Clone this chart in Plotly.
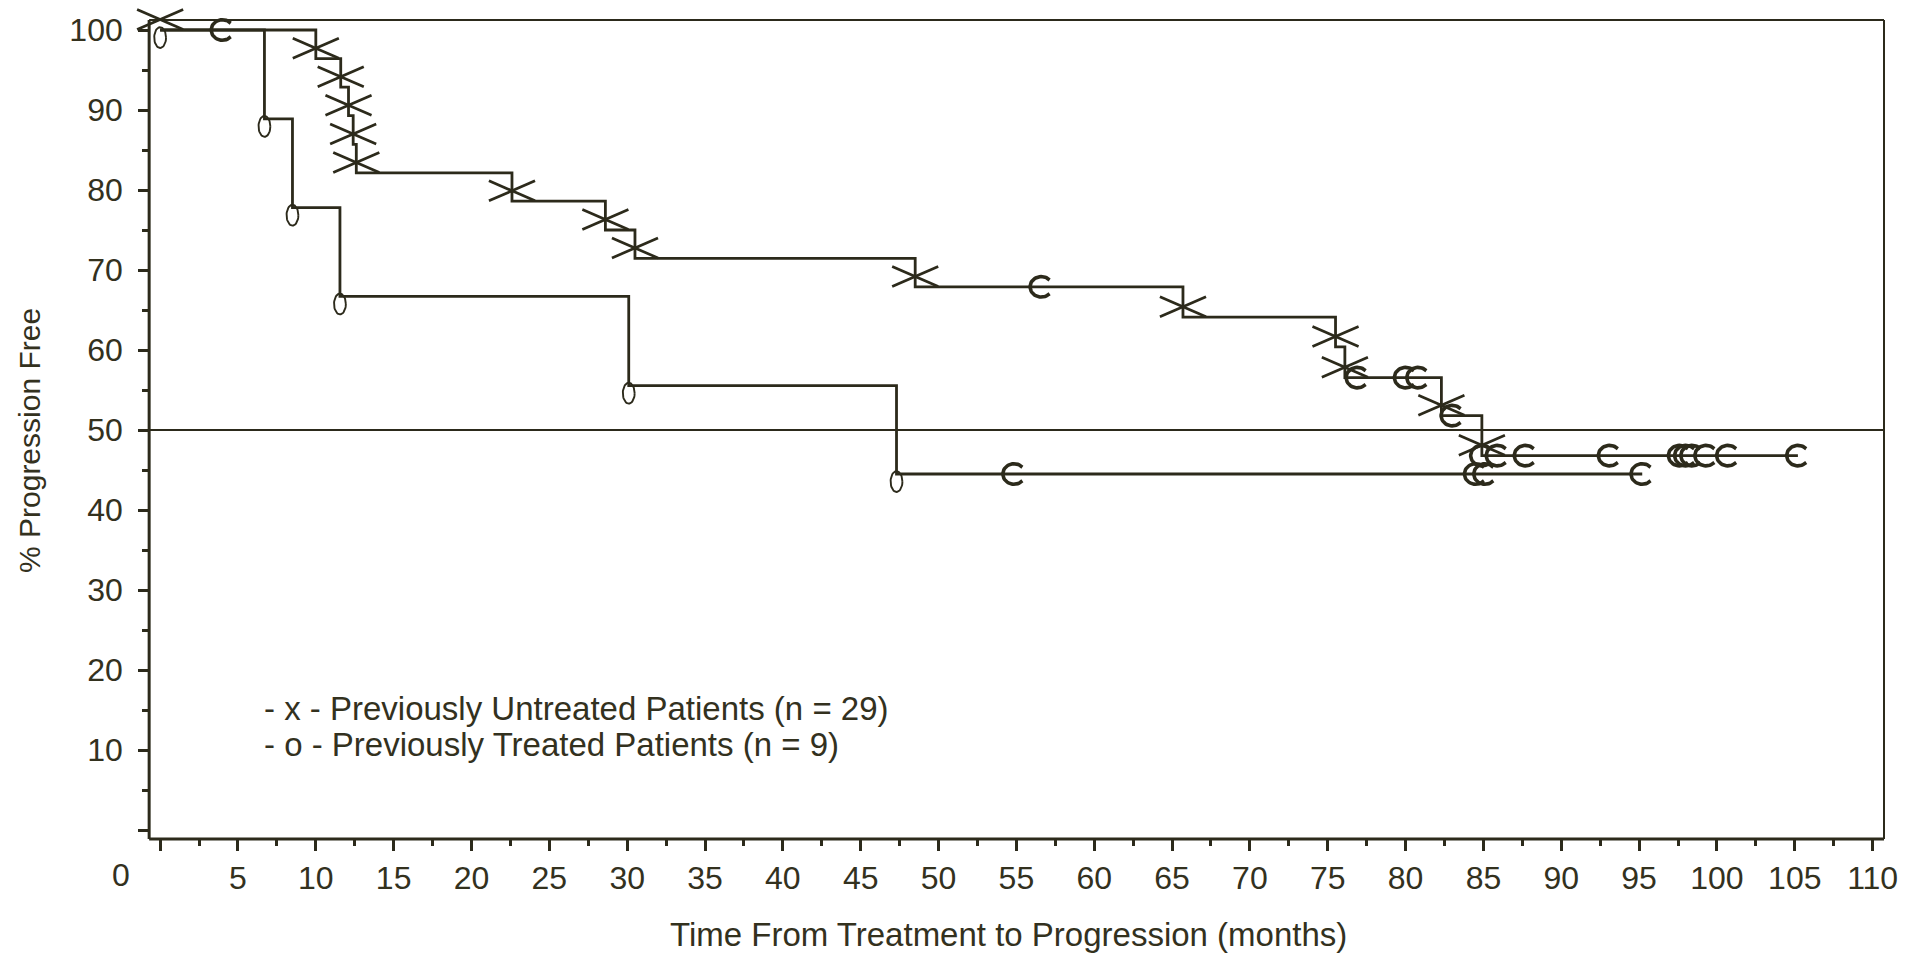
import numpy as np
import plotly.graph_objects as go

# ---------------- data ----------------
# Previously untreated patients: Kaplan-Meier step times (months) and % progression free after each step
untreated_step_t = [0, 10.0, 11.6, 12.1, 12.4, 12.6, 22.6, 28.6, 30.5, 48.5, 65.7, 75.5, 76.1, 82.3, 84.9]
untreated_step_s = [100, 96.43, 92.86, 89.29, 85.71, 82.14, 78.6, 75.0, 71.45, 67.9, 64.1, 60.4, 56.55, 51.8, 46.8]
# censored observations (C marks)
untreated_cens_t = [4.0, 56.6, 76.9, 80.0, 80.8, 83.0, 84.9, 85.9, 87.7, 93.1, 97.6, 98.0, 98.4, 99.3, 100.7, 105.2]
untreated_cens_s = [100, 67.9, 56.55, 56.55, 56.55, 51.8, 46.8, 46.8, 46.8, 46.8, 46.8, 46.8, 46.8, 46.8, 46.8, 46.8]

# Previously treated patients
treated_step_t = [0, 6.7, 8.5, 11.55, 30.1, 47.3]
treated_step_s = [100, 88.9, 77.8, 66.7, 55.55, 44.5]
treated_cens_t = [54.85, 84.5, 85.1, 95.2]
treated_cens_s = [44.5, 44.5, 44.5, 44.5]

reference_level = 50

x_tick_vals = list(range(0, 111, 5))
x_tick_text = [""] + [str(v) for v in x_tick_vals[1:]]
y_tick_vals = list(range(0, 101, 10))
y_tick_text = [""] + [str(v) for v in y_tick_vals[1:]]

legend_lines = ["- x - Previously Untreated Patients (n = 29)",
                "- o - Previously Treated Patients (n = 9)"]
x_title = "Time From Treatment to Progression (months)"
y_title = "% Progression Free"

# ---------------- style ----------------
INK = "#2c2a1b"
TXT = "#33311e"
FONT = "Liberation Sans, Arial, Helvetica, sans-serif"
W, H = 1921, 957
ML, MR, MT, MB = 129, 37, 6, 118
X0, X1 = -2.0, 110.73          # x range (extra room on the left so the t=0 marks are not clipped)
Y0, Y1 = -1.125, 103.0         # y range (extra room on top)
AX_LEFT_T = -0.706             # where the drawn y axis line sits
FRAME_TOP_Y = 101.25           # top frame line

# marker geometry (data units)
X_HW, X_HH, X_DY = 1.48, 1.25, 1.3        # wide "X" event marks
E_RX, E_RY, E_DY = 0.38, 1.3, -0.95       # vertical ellipse event marks
C_RX, C_RY = 0.72, 1.28                   # "C" censor marks


def xmark_path(ts, ss):
    xs, ys = [], []
    for t, s in zip(ts, ss):
        c = s + X_DY
        xs += [t - X_HW, t + X_HW, None, t - X_HW, t + X_HW, None]
        ys += [c - X_HH, c + X_HH, None, c + X_HH, c - X_HH, None]
    return xs, ys


def ellipse_path(ts, ss):
    th = np.linspace(0, 2 * np.pi, 49)
    xs, ys = [], []
    for t, s in zip(ts, ss):
        xs += list(t + E_RX * np.cos(th)) + [None]
        ys += list(s + E_DY + E_RY * np.sin(th)) + [None]
    return xs, ys


def cmark_path(ts, ss):
    th = np.linspace(np.radians(42), np.radians(318), 40)
    xs, ys = [], []
    for t, s in zip(ts, ss):
        xs += list(t + C_RX * np.cos(th)) + [None]
        ys += list(s + C_RY * np.sin(th)) + [None]
    return xs, ys


fig = go.Figure()

# step curves
fig.add_trace(go.Scatter(
    x=untreated_step_t + [untreated_cens_t[-1]],
    y=untreated_step_s + [untreated_step_s[-1]],
    mode="lines", line=dict(color=INK, width=2.8, shape="hv"), hoverinfo="skip"))
fig.add_trace(go.Scatter(
    x=treated_step_t + [treated_cens_t[-1]],
    y=treated_step_s + [treated_step_s[-1]],
    mode="lines", line=dict(color=INK, width=2.8, shape="hv"), hoverinfo="skip"))

# event marks
xx, xy = xmark_path(untreated_step_t, untreated_step_s)
fig.add_trace(go.Scatter(x=xx, y=xy, mode="lines", line=dict(color=INK, width=2.7), hoverinfo="skip"))
ex, ey = ellipse_path(treated_step_t, treated_step_s)
fig.add_trace(go.Scatter(x=ex, y=ey, mode="lines", line=dict(color=INK, width=1.9), hoverinfo="skip"))

# censor marks
cx, cy = cmark_path(untreated_cens_t + treated_cens_t, untreated_cens_s + treated_cens_s)
fig.add_trace(go.Scatter(x=cx, y=cy, mode="lines", line=dict(color=INK, width=3.6), hoverinfo="skip"))


def px_(t):
    return (t - X0) / (X1 - X0)


def py_(v):
    return (v - Y0) / (Y1 - Y0)


left = px_(AX_LEFT_T)
top = py_(FRAME_TOP_Y)
shapes = [
    dict(type="line", xref="paper", yref="paper", x0=left, x1=left, y0=0, y1=top, line=dict(color=INK, width=3)),
    dict(type="line", xref="paper", yref="paper", x0=left, x1=1, y0=0, y1=0, line=dict(color=INK, width=3)),
    dict(type="line", xref="paper", yref="paper", x0=left, x1=1, y0=top, y1=top, line=dict(color=INK, width=2)),
    dict(type="line", xref="paper", yref="paper", x0=1, x1=1, y0=0, y1=top, line=dict(color=INK, width=2)),
    dict(type="line", xref="paper", yref="paper", x0=left, x1=1, y0=py_(reference_level), y1=py_(reference_level),
         line=dict(color=INK, width=1.8)),
]

pw = W - ML - MR
ph = H - MT - MB


def ax_x(pix):
    return (pix - ML) / pw


def ax_y(pix):
    return (H - MB - pix) / ph


annotations = [
    dict(text="0", x=ax_x(121), y=ax_y(875), xref="paper", yref="paper", showarrow=False,
         xanchor="center", yanchor="middle", font=dict(family=FONT, size=32, color=TXT)),
    dict(text=x_title, x=ax_x(1008), y=ax_y(934), xref="paper", yref="paper", showarrow=False,
         xanchor="center", yanchor="middle", font=dict(family=FONT, size=33, color=TXT)),
    dict(text=y_title, x=ax_x(30), y=ax_y(441), xref="paper", yref="paper", showarrow=False, textangle=-90,
         xanchor="center", yanchor="middle", font=dict(family=FONT, size=30, color=TXT)),
    dict(text=legend_lines[0], x=ax_x(262), y=ax_y(708), xref="paper", yref="paper", showarrow=False,
         xanchor="left", yanchor="middle", font=dict(family=FONT, size=33, color=TXT)),
    dict(text=legend_lines[1], x=ax_x(262), y=ax_y(744), xref="paper", yref="paper", showarrow=False,
         xanchor="left", yanchor="middle", font=dict(family=FONT, size=33, color=TXT)),
]

fig.update_layout(
    width=W, height=H,
    margin=dict(l=ML, r=MR, t=MT, b=MB, pad=0),
    paper_bgcolor="white", plot_bgcolor="white",
    showlegend=False,
    shapes=shapes,
    annotations=annotations,
    xaxis=dict(range=[X0, X1], tickmode="array", tickvals=x_tick_vals, ticktext=x_tick_text,
               ticks="outside", ticklen=11, tickwidth=2.5, tickcolor=INK,
               showline=False, showgrid=False, zeroline=False,
               tickfont=dict(family=FONT, size=32, color=TXT),
               minor=dict(tickmode="linear", tick0=0, dtick=2.5, ticks="outside", ticklen=6,
                          tickwidth=2.5, tickcolor=INK, showgrid=False)),
    yaxis=dict(range=[Y0, Y1], anchor="free", position=left, tickmode="array",
               tickvals=y_tick_vals, ticktext=y_tick_text,
               ticks="outside", ticklen=11, tickwidth=2.5, tickcolor=INK,
               showline=False, showgrid=False, zeroline=False, ticklabelstandoff=9,
               tickfont=dict(family=FONT, size=32, color=TXT),
               minor=dict(tickmode="linear", tick0=0, dtick=5, ticks="outside", ticklen=7,
                          tickwidth=2.5, tickcolor=INK, showgrid=False)),
)

fig.write_html("out.html")
